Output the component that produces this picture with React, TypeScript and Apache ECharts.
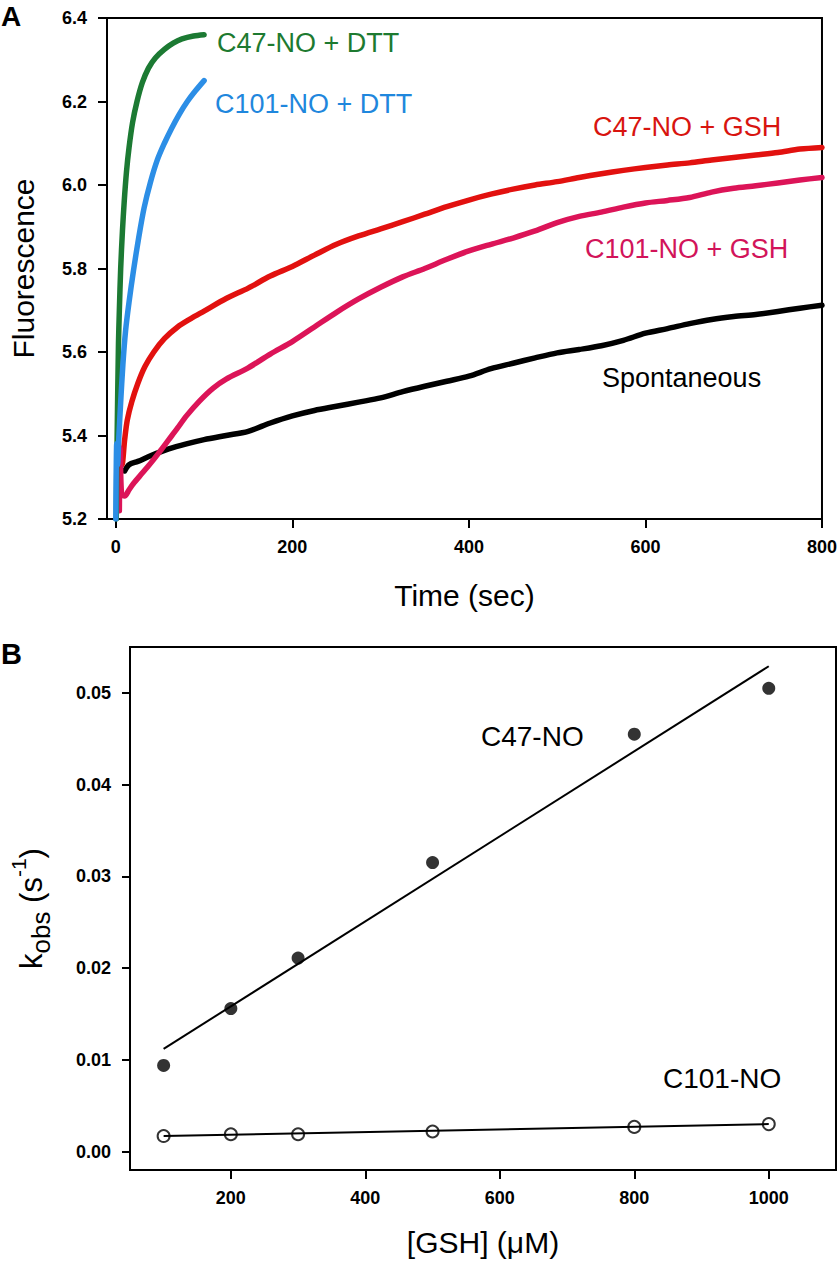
import React, { useEffect, useRef } from "react";
import * as echarts from "echarts";

// ---------- Panel A data (Time in s, Fluorescence) ----------
const timeTicks = [0, 200, 400, 600, 800];
const fluoTicks = [5.2, 5.4, 5.6, 5.8, 6.0, 6.2, 6.4];

const c47Dtt: [number, number][] = [
  [0.5, 5.2], [1.5, 5.4], [3, 5.62], [4, 5.7], [5.5, 5.8], [7.5, 5.89], [9.5, 5.96],
  [12, 6.03], [15, 6.09], [19, 6.15], [24, 6.2], [30, 6.245], [37, 6.28], [45, 6.305],
  [55, 6.325], [65, 6.34], [75, 6.35], [88, 6.357], [100, 6.36],
];
const c101Dtt: [number, number][] = [
  [0, 5.2], [1, 5.38], [2, 5.33], [3.5, 5.4], [5.5, 5.48], [8, 5.57], [11, 5.65],
  [15, 5.72], [20, 5.795], [26, 5.875], [32, 5.945], [39, 6.005], [47, 6.06], [55, 6.1],
  [63, 6.135], [72, 6.17], [81, 6.2], [90, 6.225], [100, 6.25],
];
const c47Gsh: [number, number][] = [
  [4, 5.25], [5, 5.36], [7, 5.33], [10, 5.39], [13, 5.437], [18, 5.48], [25, 5.525],
  [33, 5.565], [43, 5.6], [55, 5.632], [70, 5.66], [85, 5.68], [100, 5.698], [125, 5.728],
  [150, 5.753], [175, 5.782], [200, 5.805], [225, 5.832], [250, 5.858], [275, 5.878],
  [300, 5.895], [325, 5.912], [350, 5.93], [375, 5.948], [400, 5.964], [425, 5.978],
  [450, 5.99], [475, 6.0], [500, 6.008], [525, 6.018], [550, 6.027], [575, 6.035],
  [600, 6.042], [625, 6.048], [650, 6.053], [675, 6.06], [700, 6.066], [725, 6.072],
  [750, 6.078], [775, 6.086], [800, 6.09],
];
const c101Gsh: [number, number][] = [
  [4, 5.22], [5, 5.37], [6.5, 5.26], [10, 5.255], [15, 5.27], [20, 5.285], [30, 5.31],
  [40, 5.335], [50, 5.362], [60, 5.39], [70, 5.418], [80, 5.447], [95, 5.483], [110, 5.513],
  [125, 5.535], [150, 5.562], [175, 5.595], [200, 5.625], [225, 5.66], [250, 5.695],
  [275, 5.727], [300, 5.755], [325, 5.78], [350, 5.8], [375, 5.822], [400, 5.842],
  [425, 5.858], [450, 5.873], [475, 5.89], [500, 5.91], [525, 5.925], [550, 5.935],
  [575, 5.947], [600, 5.957], [625, 5.963], [650, 5.97], [675, 5.983], [700, 5.992],
  [725, 5.998], [750, 6.005], [775, 6.012], [800, 6.018],
];
const spontaneous: [number, number][] = [
  [10, 5.315], [15, 5.33], [25, 5.338], [40, 5.352], [60, 5.368], [80, 5.38], [100, 5.39],
  [125, 5.4], [150, 5.41], [175, 5.43], [200, 5.447], [225, 5.46], [250, 5.47], [275, 5.48],
  [300, 5.49], [325, 5.505], [350, 5.518], [375, 5.53], [400, 5.542], [425, 5.56],
  [450, 5.573], [475, 5.586], [500, 5.598], [525, 5.606], [550, 5.615], [575, 5.628],
  [600, 5.645], [625, 5.656], [650, 5.668], [675, 5.678], [700, 5.685], [725, 5.69],
  [750, 5.697], [775, 5.705], [800, 5.712],
];

// ---------- Panel B data ([GSH] in µM, kobs in s^-1) ----------
const gshTicks = [200, 400, 600, 800, 1000];
const kTicks = [0, 0.01, 0.02, 0.03, 0.04, 0.05];
const gsh = [100, 200, 300, 500, 800, 1000];
const kC47 = [0.0094, 0.0156, 0.0211, 0.0315, 0.0455, 0.0505];
const kC101 = [0.0017, 0.0019, 0.0019, 0.0022, 0.0027, 0.003];
const fitC47: [number, number][] = [[100, 0.0112], [1000, 0.0529]];
const fitC101: [number, number][] = [[100, 0.0017], [1000, 0.003]];

const FONT = '"Liberation Sans", Arial, Helvetica, sans-serif';

const tickLabel = { color: "#000", fontFamily: FONT, fontWeight: "bold" as const, fontSize: 18 };
const titleStyle = { color: "#000", fontFamily: FONT, fontSize: 30 };
const axisLine = { show: true, onZero: false, lineStyle: { color: "#000", width: 2 } };

function ticks(values: number[]) {
  return { show: true, inside: false, length: 9, customValues: values, lineStyle: { color: "#000", width: 2 } };
}

function lineSeries(data: [number, number][], color: string) {
  return {
    type: "line" as const,
    xAxisIndex: 0,
    yAxisIndex: 0,
    data,
    showSymbol: false,
    smooth: 0.3,
    lineStyle: { color, width: 5.5, cap: "round" as const, join: "round" as const },
    itemStyle: { color },
    silent: true,
  };
}

function annot(text: string, x: number, y: number, color: string, size = 27) {
  return {
    type: "text" as const,
    x,
    y,
    style: {
      text,
      fill: color,
      font: `normal ${size}px ${FONT}`,
      verticalAlign: "middle",
      align: "left",
    },
  };
}

export default function App() {
  const ref = useRef<HTMLDivElement>(null);
  useEffect(() => {
    if (!ref.current) return;
    const chart = echarts.init(ref.current, null, { renderer: "svg" });
    const option: any = {
      animation: false,
      backgroundColor: "#fff",
      grid: [
        { left: 106, top: 18, width: 718, height: 501, show: true, borderColor: "#000", borderWidth: 2, backgroundColor: "transparent" },
        { left: 127, top: 647, width: 709, height: 523, show: true, borderColor: "#000", borderWidth: 2, backgroundColor: "transparent" },
      ],
      xAxis: [
        {
          type: "value",
          gridIndex: 0,
          min: -10,
          max: 800,
          splitLine: { show: false },
          axisLine,
          axisTick: ticks(timeTicks),
          axisLabel: { ...tickLabel, margin: 19, customValues: timeTicks, formatter: (v: number) => String(v) },
          name: "Time (sec)",
          nameLocation: "middle",
          nameGap: 61,
          nameTextStyle: titleStyle,
        },
        {
          type: "value",
          gridIndex: 1,
          min: 50,
          max: 1100,
          splitLine: { show: false },
          axisLine,
          axisTick: ticks(gshTicks),
          axisLabel: { ...tickLabel, margin: 19, customValues: gshTicks, formatter: (v: number) => String(v) },
          name: "[GSH] (\u03bcM)",
          nameLocation: "middle",
          nameGap: 57,
          nameTextStyle: titleStyle,
        },
      ],
      yAxis: [
        {
          type: "value",
          gridIndex: 0,
          min: 5.2,
          max: 6.4,
          splitLine: { show: false },
          axisLine,
          axisTick: ticks(fluoTicks),
          axisLabel: { ...tickLabel, margin: 20, customValues: fluoTicks, formatter: (v: number) => v.toFixed(1) },
          name: "Fluorescence",
          nameLocation: "middle",
          nameGap: 69,
          nameTextStyle: titleStyle,
        },
        {
          type: "value",
          gridIndex: 1,
          min: -0.002,
          max: 0.055,
          splitLine: { show: false },
          axisLine,
          axisTick: { ...ticks(kTicks), length: 8 },
          axisLabel: { ...tickLabel, margin: 19, customValues: kTicks, formatter: (v: number) => v.toFixed(2) },
          name: "{m|k}{sub|obs}{m| (s}{sup|-1}{m|)}",
          nameLocation: "middle",
          nameGap: 76,
          nameTextStyle: {
            color: "#000",
            fontFamily: FONT,
            rich: {
              m: { fontSize: 31, fontFamily: FONT, color: "#000", lineHeight: 46, verticalAlign: "middle" },
              sub: { fontSize: 26, fontFamily: FONT, color: "#000", lineHeight: 26, verticalAlign: "bottom" },
              sup: { fontSize: 21, fontFamily: FONT, color: "#000", lineHeight: 21, verticalAlign: "top" },
            },
          },
        },
      ],
      series: [
        lineSeries(spontaneous, "#000000"),
        lineSeries(c47Gsh, "#e2110f"),
        lineSeries(c101Gsh, "#dc1458"),
        lineSeries(c47Dtt, "#1c7a33"),
        lineSeries(c101Dtt, "#2c8ee6"),
        {
          type: "line",
          xAxisIndex: 1,
          yAxisIndex: 1,
          data: fitC47,
          showSymbol: false,
          lineStyle: { color: "#000", width: 2 },
          silent: true,
        },
        {
          type: "line",
          xAxisIndex: 1,
          yAxisIndex: 1,
          data: fitC101,
          showSymbol: false,
          lineStyle: { color: "#000", width: 2 },
          silent: true,
        },
        {
          type: "scatter",
          xAxisIndex: 1,
          yAxisIndex: 1,
          data: gsh.map((g, i) => [g, kC47[i]]),
          symbol: "circle",
          symbolSize: 13,
          itemStyle: { color: "#000" },
          silent: true,
        },
        {
          type: "scatter",
          xAxisIndex: 1,
          yAxisIndex: 1,
          data: gsh.map((g, i) => [g, kC101[i]]),
          symbol: "circle",
          symbolSize: 12,
          itemStyle: { color: "#fff", borderColor: "#000", borderWidth: 2 },
          silent: true,
        },
      ],
      graphic: [
        { type: "text", x: 1, y: 2, style: { text: "A", fill: "#000", font: `bold 28px ${FONT}`, verticalAlign: "top" } },
        { type: "text", x: 1, y: 639, style: { text: "B", fill: "#000", font: `bold 29px ${FONT}`, verticalAlign: "top" } },
        annot("C47-NO + DTT", 217, 43, "#1d7a30"),
        annot("C101-NO + DTT", 215, 104, "#1f87dd"),
        annot("C47-NO + GSH", 593, 127, "#d8140f"),
        annot("C101-NO + GSH", 585, 249, "#d2145a"),
        annot("Spontaneous", 602, 378, "#000"),
        annot("C47-NO", 481, 736, "#000", 28),
        annot("C101-NO", 663, 1078, "#000", 28),
      ],
    };
    chart.setOption(option);
    return () => chart.dispose();
  }, []);
  return (
    <div
      ref={ref}
      style={{ position: "absolute", left: 0, top: 0, width: 840, height: 1268, background: "#fff" }}
    />
  );
}
